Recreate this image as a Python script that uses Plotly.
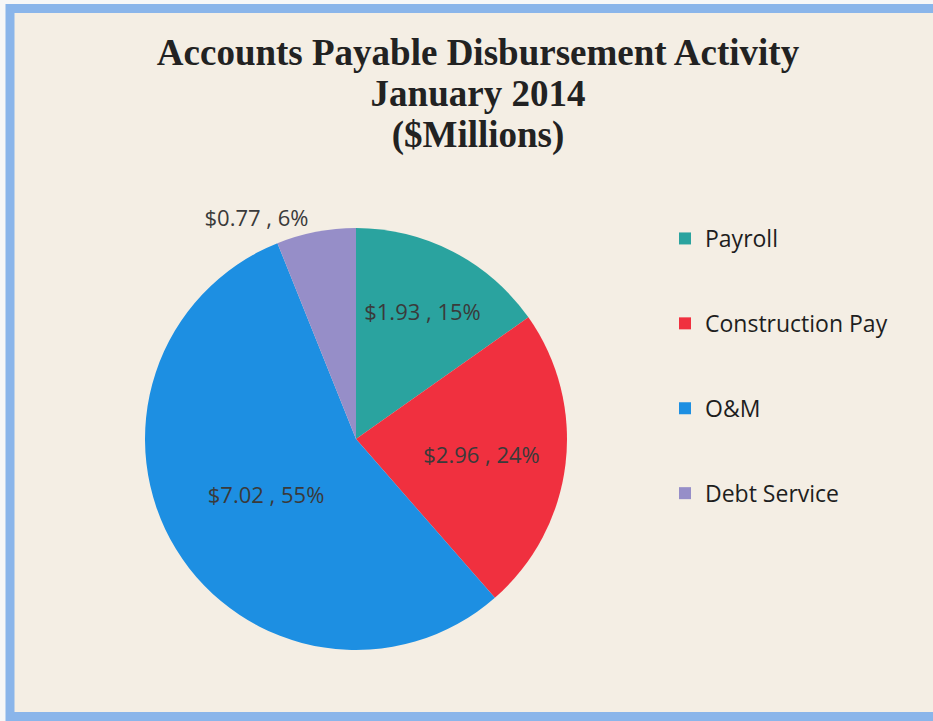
import plotly.graph_objects as go

# ---- data ----
categories = ["Payroll", "Construction Pay", "O&M", "Debt Service"]
values_musd = [1.93, 2.96, 7.02, 0.77]
percent_labels = [15, 24, 55, 6]
colors = ["#2aa39f", "#f0303f", "#1d8fe2", "#968ec8"]
text_positions = ["inside", "inside", "inside", "outside"]
title_lines = ["Accounts Payable Disbursement Activity", "January 2014", "($Millions)"]

W, H = 933, 721
bg = "#f4eee4"
outer = "#f7f7f7"
border = "#8ab5ea"

fig = go.Figure()

cx, cy, r = 356, 439, 211
fig.add_trace(go.Pie(
    labels=categories,
    values=values_musd,
    customdata=percent_labels,
    texttemplate="$%{value:.2f} , %{customdata}%",
    textposition=text_positions,
    insidetextorientation="horizontal",
    textfont=dict(family="Open Sans", size=22, color="#3a3a3a"),
    marker=dict(colors=colors, line=dict(width=0)),
    sort=False,
    direction="clockwise",
    rotation=0,
    showlegend=False,
    hoverinfo="label+value+percent",
    domain=dict(x=[(cx - r) / W, (cx + r) / W],
                y=[1 - (cy + r) / H, 1 - (cy - r) / H]),
))

for i, (cat, col) in enumerate(zip(categories, colors)):
    fig.add_trace(go.Scatter(
        x=[None], y=[None], mode="markers", name=cat,
        marker=dict(symbol="square", size=11, color=col),
        legendgroup=f"g{i}", showlegend=True,
    ))

title_text = "<br>".join(f"<span style='font-size:37px'>{t}</span>" for t in title_lines)

fig.update_layout(
    width=W, height=H,
    margin=dict(l=0, r=0, t=0, b=0),
    paper_bgcolor=outer,
    plot_bgcolor="rgba(0,0,0,0)",
    xaxis=dict(visible=False),
    yaxis=dict(visible=False),
    title=dict(
        text=title_text,
        font=dict(family="Liberation Serif", size=31.5, color="#222222", weight="bold"),
        x=478 / W, xanchor="center",
        yref="container", y=1 - 65 / H, yanchor="top",
    ),
    legend=dict(
        x=665 / W, xanchor="left",
        y=1 - 217 / H, yanchor="top",
        font=dict(family="Open Sans", size=23, color="#1e1e1e"),
        bgcolor="rgba(0,0,0,0)",
        tracegroupgap=52,
        itemsizing="constant",
    ),
    shapes=[
        dict(type="rect", xref="paper", yref="paper",
             x0=10 / W, x1=1 + 30 / W, y0=1 - 716.5 / H, y1=1 - 8.5 / H,
             line=dict(color=border, width=9),
             fillcolor=bg, layer="below"),
    ],
)

fig.write_html(
    "out.html",
    config={"displayModeBar": False},
    post_script="document.body.style.margin='0';document.body.style.overflow='hidden';",
)
